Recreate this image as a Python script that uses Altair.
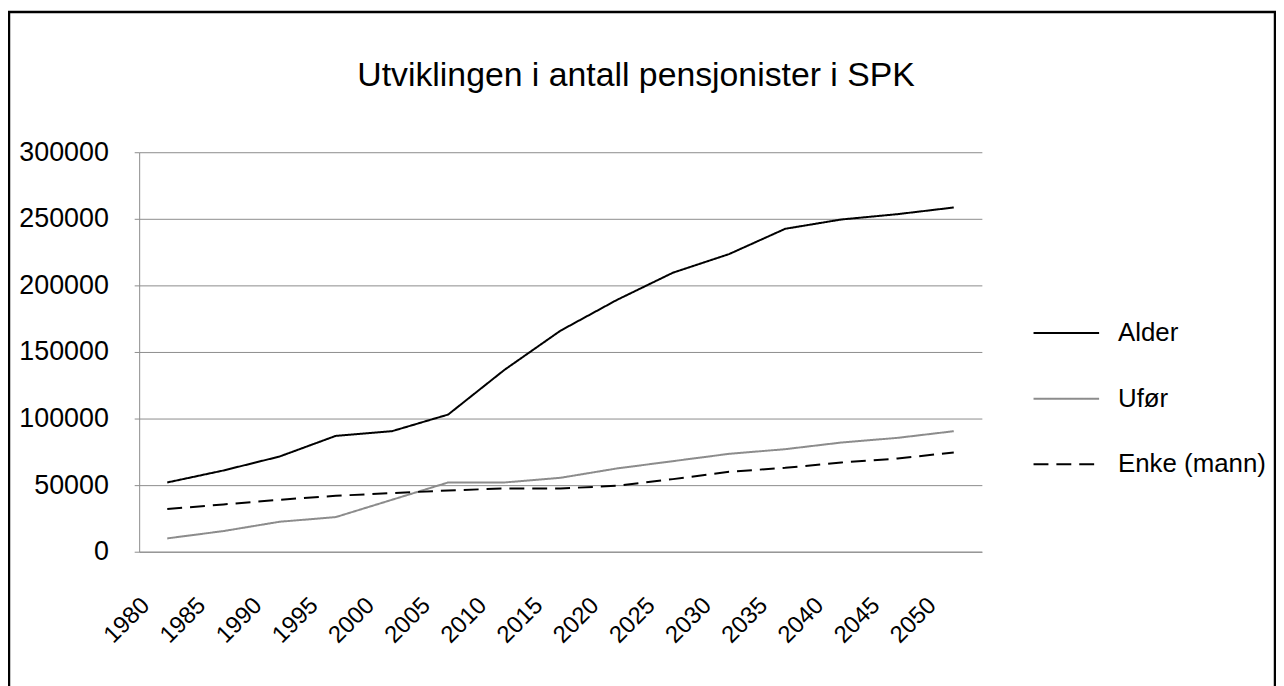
import altair as alt
import pandas as pd

years = ["1980", "1985", "1990", "1995", "2000", "2005", "2010", "2015",
         "2020", "2025", "2030", "2035", "2040", "2045", "2050"]
alder = [52000, 61000, 71500, 87000, 90500, 103000, 136500, 166000,
         189000, 209500, 223500, 242500, 249500, 253500, 258500]
ufor = [10000, 15500, 22500, 26000, 39000, 52000, 52000, 55500,
        62500, 68000, 73500, 77000, 82000, 85500, 90500]
enke = [32000, 35500, 39000, 42000, 44000, 46000, 47500, 47500,
        49500, 54500, 60000, 63000, 67000, 70000, 74500]
series_names = ["Alder", "Ufør", "Enke (mann)"]
y_ticks = [0, 50000, 100000, 150000, 200000, 250000, 300000]
title_text = "Utviklingen i antall pensjonister i SPK"

rows = []
for name, vals in zip(series_names, [alder, ufor, enke]):
    for yr, v in zip(years, vals):
        rows.append({"År": yr, "Antall": v, "Serie": name})
df = pd.DataFrame(rows)

FONT = "Liberation Sans"
GRID = "#8c8c8c"

legend = alt.Legend(
    title=None, orient="none", legendX=899, legendY=148,
    symbolType="stroke", symbolSize=4356, symbolStrokeWidth=2,
    labelFontSize=26, labelFont=FONT, labelColor="black",
    labelOffset=18, rowPadding=19, padding=0,
)

lines = alt.Chart(df).mark_line(clip=False).encode(
    x=alt.X("År:O", sort=years, scale=alt.Scale(type="point", padding=0.5),
            axis=alt.Axis(title=None, labelAngle=-45, labelAlign="right",
                          labelBaseline="middle", labelFontSize=24, labelFont=FONT,
                          labelColor="black", ticks=False, domainColor=GRID,
                          labelPadding=50, labelOffset=-22, grid=False)),
    y=alt.Y("Antall:Q", scale=alt.Scale(domain=[0, 300000], nice=False),
            axis=alt.Axis(title=None, values=y_ticks, format="d",
                          labelFontSize=27, labelFont=FONT, labelColor="black",
                          tickColor=GRID, tickSize=5, domainColor=GRID,
                          gridColor=GRID, gridOpacity=1, labelPadding=26)),
    color=alt.Color("Serie:N", sort=series_names,
                    scale=alt.Scale(domain=series_names,
                                    range=["black", "#8c8c8c", "black"]),
                    legend=legend),
    strokeDash=alt.StrokeDash("Serie:N", sort=series_names,
                              scale=alt.Scale(domain=series_names,
                                              range=[[1, 0], [1, 0], [15, 8]]),
                              legend=legend),
    strokeWidth=alt.StrokeWidth("Serie:N", sort=series_names,
                                scale=alt.Scale(domain=series_names,
                                                range=[2, 2, 3]),
                                legend=legend),
)

title = alt.Chart(pd.DataFrame({"t": [title_text]})).mark_text(
    font=FONT, fontSize=34, color="black", align="center",
    baseline="alphabetic", clip=False
).encode(
    text="t:N", x=alt.value(500), y=alt.value(-67),
)

frame = alt.Chart(pd.DataFrame({"k": [0]})).mark_rect(
    filled=False, stroke="black", strokeWidth=2.5, clip=False
).encode(
    x=alt.value(-131), x2=alt.value(1143),
    y=alt.value(-141), y2=alt.value(900),
)

chart = alt.layer(lines, title, frame).properties(
    width=848, height=402,
    autosize=alt.AutoSizeParams(type="none"),
    padding={"left": 132, "top": 143, "right": 296, "bottom": 133},
).configure_view(stroke=None)

chart.save("out.html", embed_options={"renderer": "svg", "actions": False})
